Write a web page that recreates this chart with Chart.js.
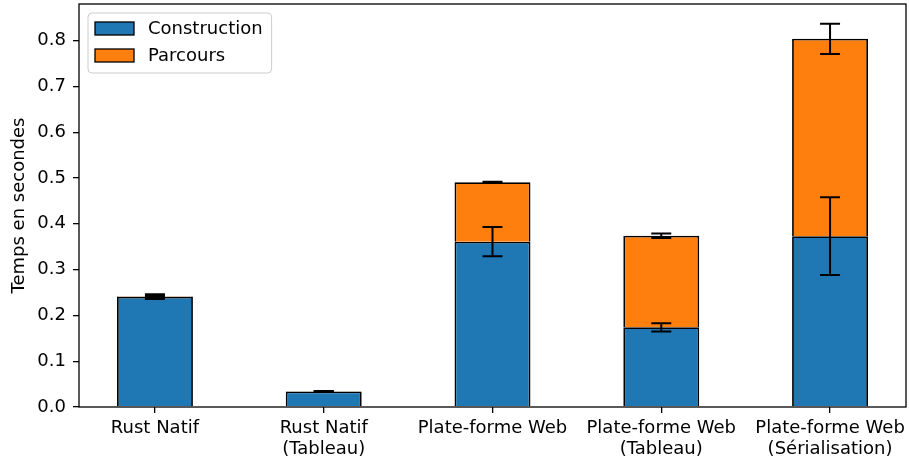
<!DOCTYPE html>
<html>
<head>
<meta charset="utf-8">
<script src="https://cdn.jsdelivr.net/npm/chart.js@4.4.0/dist/chart.umd.min.js"></script>
<style>
  html, body { margin: 0; padding: 0; background: #fff; }
  #wrap { width: 909px; height: 462px; }
</style>
</head>
<body>
<div id="wrap"><canvas id="chart" width="909" height="462"></canvas></div>
<script>
// Temps de construction et de parcours selon la plate-forme

const categories = [
  ["Rust Natif"],
  ["Rust Natif", "(Tableau)"],
  ["Plate-forme Web"],
  ["Plate-forme Web", "(Tableau)"],
  ["Plate-forme Web", "(Sérialisation)"],
];
const positions = [0, 1, 2, 3, 4];
const construction = [0.241, 0.034, 0.361, 0.174, 0.373];
const constructionErr = [0.005, 0.0008, 0.032, 0.009, 0.085];
const parcours = [0.001, 0.0005, 0.130, 0.200, 0.431];
const parcoursErr = [0.002, 0.0006, 0.001, 0.005, 0.033];
const yTicks = [0, 0.1, 0.2, 0.3, 0.4, 0.5, 0.6, 0.7, 0.8];

const FONT = "'DejaVu Sans', sans-serif";

// error bars drawn at the top of each stacked segment
const errorBars = {
  id: "errorBars",
  afterDatasetsDraw(chart) {
    const ctx = chart.ctx;
    const xs = chart.scales.x;
    const ys = chart.scales.y;
    ctx.save();
    ctx.strokeStyle = "#000";
    ctx.lineWidth = 2;
    chart.data.datasets.forEach((ds, d) => {
      ds.data.forEach((pt, i) => {
        let base = 0;
        for (let k = 0; k < d; k++) base += chart.data.datasets[k].data[i].y;
        const top = base + pt.y;
        const err = ds.errors[i];
        const px = xs.getPixelForValue(pt.x);
        const y1 = ys.getPixelForValue(top - err);
        const y2 = ys.getPixelForValue(top + err);
        ctx.beginPath();
        ctx.moveTo(px, y1);
        ctx.lineTo(px, y2);
        ctx.moveTo(px - 10, y1);
        ctx.lineTo(px + 10, y1);
        ctx.moveTo(px - 10, y2);
        ctx.lineTo(px + 10, y2);
        ctx.stroke();
      });
    });
    ctx.restore();
  },
};

// frame around the plot + legend box in the top-left corner
const frameAndLegend = {
  id: "frameAndLegend",
  afterDraw(chart) {
    const ctx = chart.ctx;
    const a = chart.chartArea;
    ctx.save();
    ctx.strokeStyle = "#000";
    ctx.lineWidth = 1.3;
    ctx.strokeRect(a.left, a.top, a.right - a.left, a.bottom - a.top);

    const lx = a.left + 9;
    const ly = a.top + 9;
    ctx.font = "18px " + FONT;
    let textW = 0;
    chart.data.datasets.forEach((ds) => {
      textW = Math.max(textW, ctx.measureText(ds.label).width);
    });
    const w = 60 + textW + 9;
    const h = 60;
    ctx.beginPath();
    ctx.roundRect(lx, ly, w, h, 4);
    ctx.fillStyle = "rgba(255,255,255,0.8)";
    ctx.fill();
    ctx.strokeStyle = "#cccccc";
    ctx.lineWidth = 1;
    ctx.stroke();

    chart.data.datasets.forEach((ds, i) => {
      const cy = ly + 15.5 + i * 27;
      ctx.fillStyle = ds.backgroundColor;
      ctx.fillRect(lx + 7, cy - 6.5, 39, 13);
      ctx.strokeStyle = "#000";
      ctx.lineWidth = 1.3;
      ctx.strokeRect(lx + 7, cy - 6.5, 39, 13);
      ctx.fillStyle = "#000";
      ctx.textBaseline = "middle";
      ctx.fillText(ds.label, lx + 60, cy + 1);
    });
    ctx.restore();
  },
};

new Chart(document.getElementById("chart"), {
  type: "bar",
  data: {
    datasets: [
      {
        label: "Construction",
        data: positions.map((p, i) => ({ x: p, y: construction[i] })),
        errors: constructionErr,
        backgroundColor: "#1f77b4",
        borderColor: "#000",
        borderWidth: 1.8,
        categoryPercentage: 1,
        barPercentage: 0.45,
      },
      {
        label: "Parcours",
        data: positions.map((p, i) => ({ x: p, y: parcours[i] })),
        errors: parcoursErr,
        backgroundColor: "#ff7f0e",
        borderColor: "#000",
        borderWidth: 1.8,
        categoryPercentage: 1,
        barPercentage: 0.45,
      },
    ],
  },
  options: {
    responsive: false,
    animation: false,
    devicePixelRatio: 1,
    layout: { padding: { left: 0, right: 3, top: 4, bottom: 0 } },
    plugins: {
      legend: { display: false },
      tooltip: { enabled: false },
    },
    scales: {
      x: {
        type: "linear",
        stacked: true,
        offset: false,
        min: -0.45,
        max: 4.45,
        afterBuildTicks: (scale) => {
          scale.ticks = positions.map((v) => ({ value: v }));
        },
        afterFit: (scale) => {
          scale.height = 55;
          scale.paddingLeft = 0;
          scale.paddingRight = 0;
        },
        border: { display: false },
        grid: {
          offset: false,
          drawOnChartArea: false,
          drawTicks: true,
          tickLength: 6,
          color: "#000",
          lineWidth: 1.3,
        },
        ticks: {
          autoSkip: false,
          maxRotation: 0,
          padding: 5,
          color: "#000",
          font: { family: FONT, size: 18, lineHeight: 1.17 },
          callback: (value) => categories[value],
        },
      },
      y: {
        stacked: true,
        min: 0,
        max: 0.88,
        afterBuildTicks: (scale) => {
          scale.ticks = yTicks.map((v) => ({ value: v }));
        },
        afterFit: (scale) => {
          scale.width = 79;
          scale.paddingTop = 0;
          scale.paddingBottom = 0;
        },
        border: { display: false },
        grid: {
          drawOnChartArea: false,
          drawTicks: true,
          tickLength: 6,
          color: "#000",
          lineWidth: 1.3,
        },
        ticks: {
          padding: 7,
          color: "#000",
          font: { family: FONT, size: 18 },
          callback: (value) => value.toFixed(1),
        },
        title: {
          display: true,
          text: "Temps en secondes",
          color: "#000",
          padding: { top: 9, bottom: 0 },
          font: { family: FONT, size: 18 },
        },
      },
    },
  },
  plugins: [errorBars, frameAndLegend],
});
</script>
</body>
</html>
